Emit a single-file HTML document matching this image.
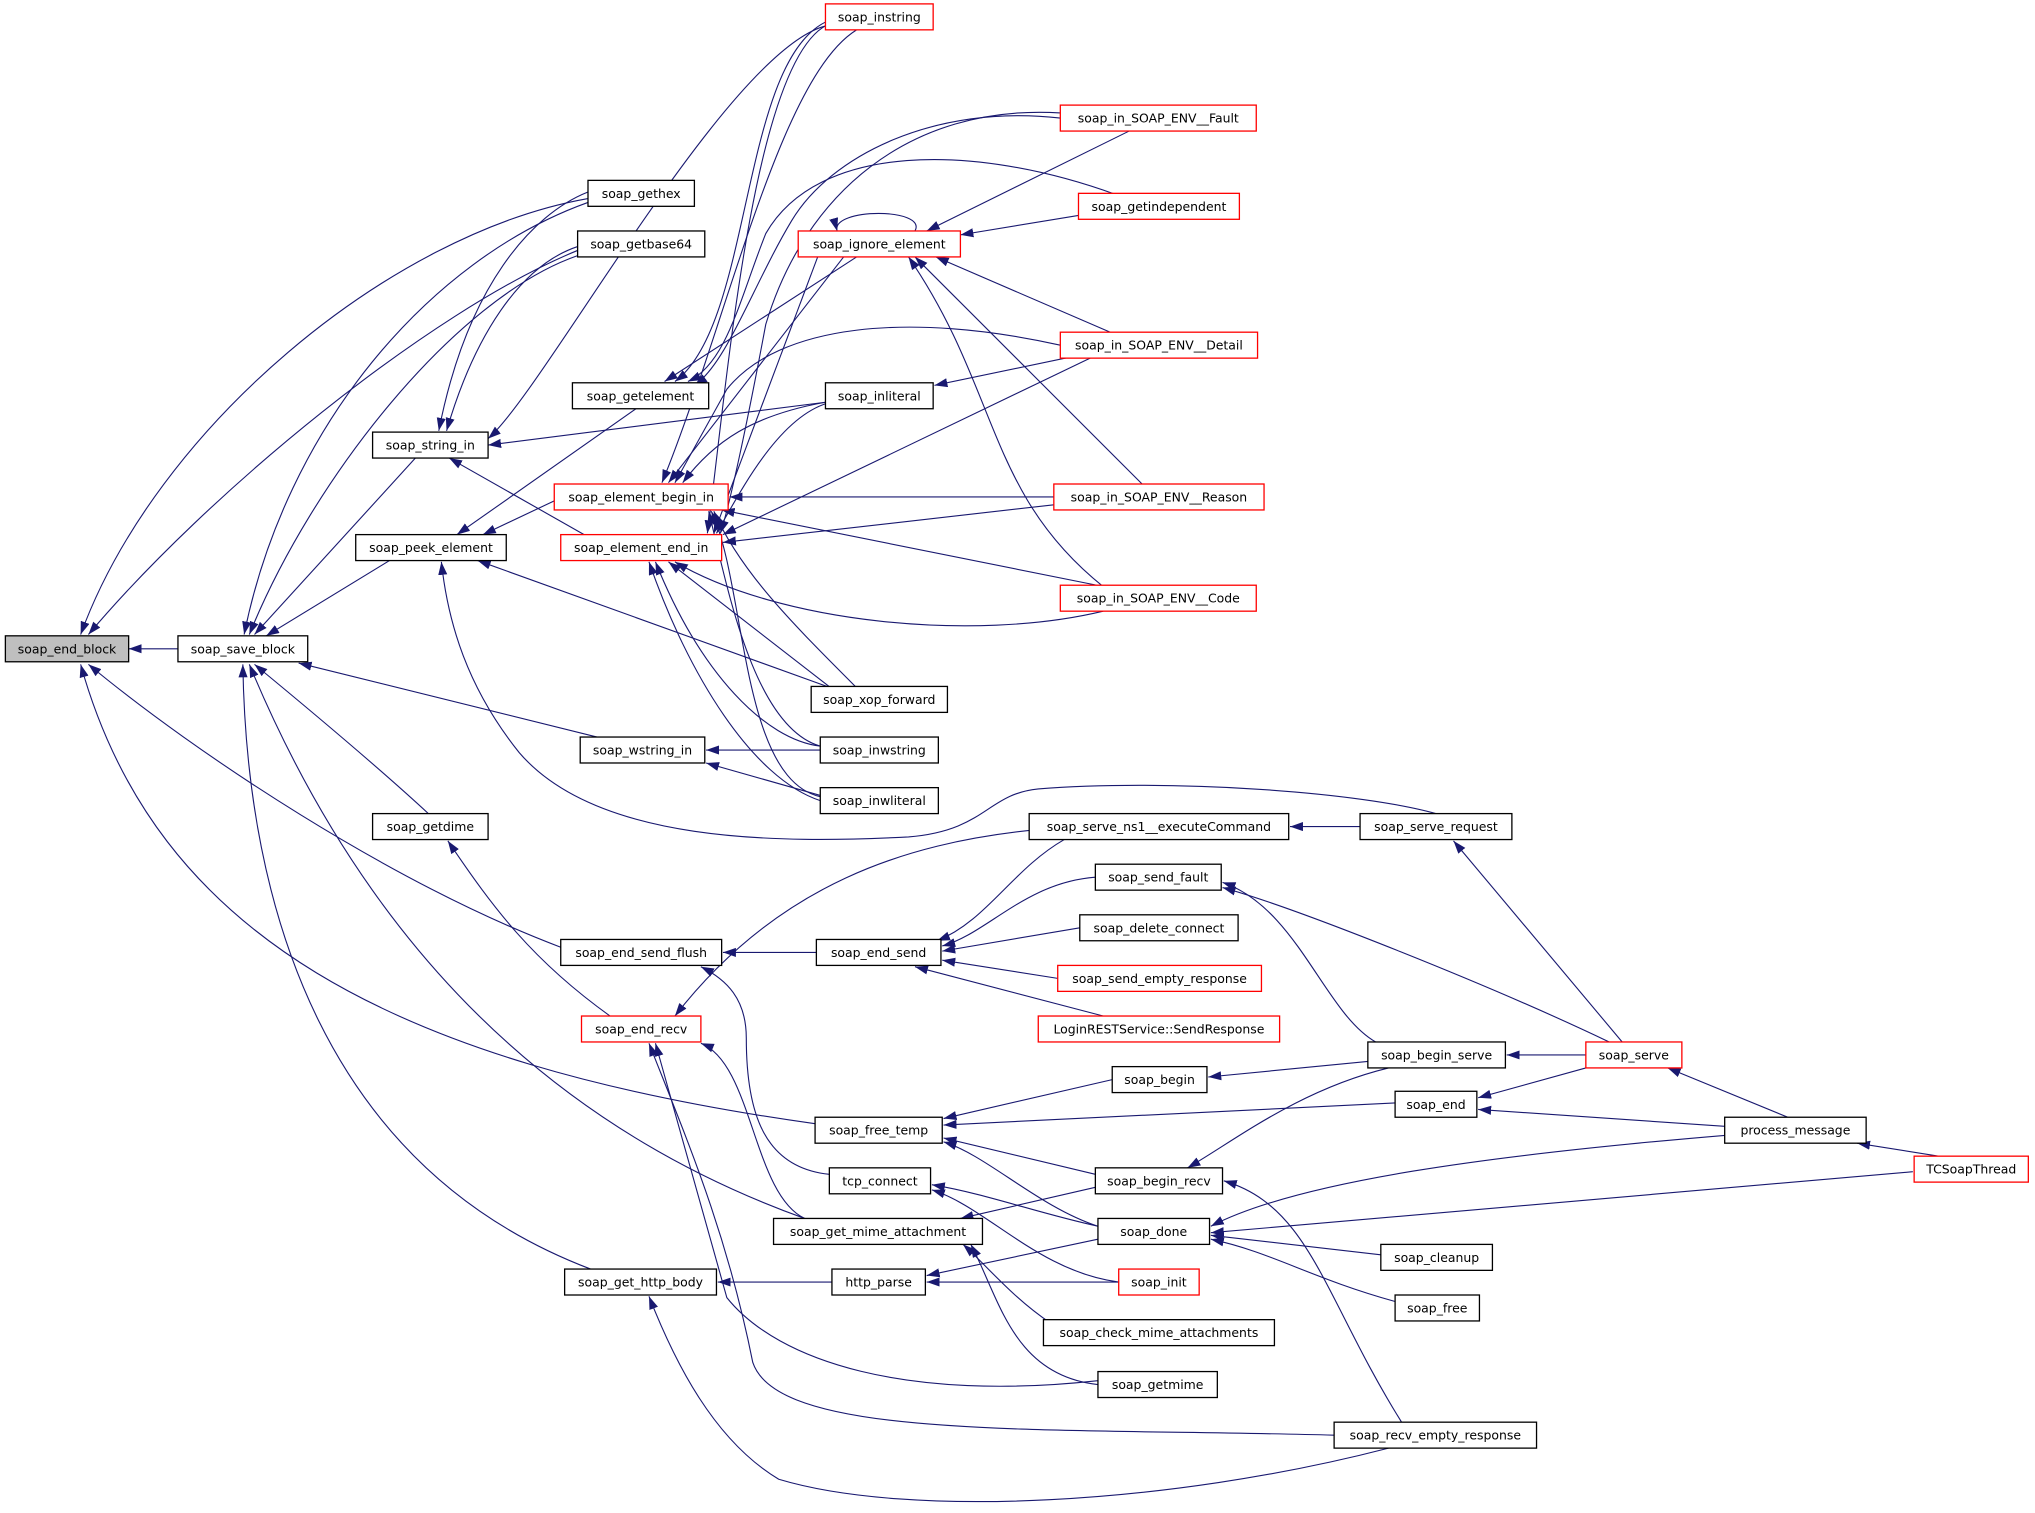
<!DOCTYPE html>
<html><head><meta charset="utf-8"><style>
html,body{margin:0;padding:0;background:#fff;}
svg{display:block;}
text{font-family:"DejaVu Sans","Liberation Sans",sans-serif;font-size:9.6px;fill:#000;text-anchor:middle;}
.e{fill:none;stroke:#191970;stroke-width:0.85;marker-end:url(#a);}
.n{fill:#fff;stroke:#000;stroke-width:1;}
.r{fill:#fff;stroke:#ff0000;stroke-width:1;}
</style></head><body>
<svg width="2035" height="1513" viewBox="0 0 1568 1166" xmlns="http://www.w3.org/2000/svg">
<defs><marker id="a" markerUnits="userSpaceOnUse" markerWidth="11" markerHeight="8" refX="10" refY="3.5" orient="auto"><path d="M0,0 L10,3.5 L0,7 z" fill="#191970"/></marker></defs>
<g>
<path class="e" d="M137,500 L99,500"/>
<path class="e" d="M453,153 C300,180 120,330 62,489"/>
<path class="e" d="M445,193 C330,240 160,380 68,489"/>
<path class="e" d="M432,730 C300,680 150,580 68,512"/>
<path class="e" d="M628,866 C300,820 120,720 62,512"/>
<path class="e" d="M453,156 C330,200 220,330 188,489"/>
<path class="e" d="M445,197 C350,230 240,370 192,489"/>
<path class="e" d="M320,353 L196,489"/>
<path class="e" d="M300,432 L205,490"/>
<path class="e" d="M460,568 L230,511"/>
<path class="e" d="M330,627 C290,590 230,540 196,512"/>
<path class="e" d="M620,939 C400,860 270,700 192,512"/>
<path class="e" d="M455,978 C250,900 190,700 187,512"/>
<path class="e" d="M453,148 C410,165 360,220 338,332"/>
<path class="e" d="M445,190 C400,205 365,260 344,332"/>
<path class="e" d="M636,20 C560,40 420,300 376,338"/>
<path class="e" d="M636,310 L376,343"/>
<path class="e" d="M450,412 L346,353"/>
<path class="e" d="M490,315 L352,412"/>
<path class="e" d="M427,386 L372,412"/>
<path class="e" d="M640,530 L368,432"/>
<path class="e" d="M1110,628 C1050,610 900,600 800,608 C760,612 760,640 700,645 C600,650 460,650 400,580 C360,530 345,480 340,433"/>
<path class="e" d="M660,23 C600,60 560,250 510,372"/>
<path class="e" d="M650,198 L515,372"/>
<path class="e" d="M817,266 C700,240 600,250 560,300 L520,372"/>
<path class="e" d="M636,310 C580,320 550,340 526,372"/>
<path class="e" d="M812,383 L562,383"/>
<path class="e" d="M850,452 L556,393"/>
<path class="e" d="M660,530 C610,480 570,440 550,394"/>
<path class="e" d="M632,575 C580,560 560,450 546,394"/>
<path class="e" d="M632,614 C570,600 575,450 548,394"/>
<path class="e" d="M640,18 C580,40 560,300 545,411"/>
<path class="e" d="M817,87 C700,80 620,150 590,250 C575,330 562,390 555,411"/>
<path class="e" d="M630,198 L550,411"/>
<path class="e" d="M840,276 L557,412"/>
<path class="e" d="M640,310 C600,320 570,380 552,411"/>
<path class="e" d="M812,389 L557,418"/>
<path class="e" d="M850,471 C750,495 600,480 520,433"/>
<path class="e" d="M640,530 L515,433"/>
<path class="e" d="M632,575 C590,570 540,520 505,433"/>
<path class="e" d="M632,617 C580,600 530,520 500,433"/>
<path class="e" d="M636,17 C570,50 580,250 520,294"/>
<path class="e" d="M860,150 C750,110 630,110 590,180 C570,230 560,280 530,294"/>
<path class="e" d="M660,198 L512,294"/>
<path class="e" d="M817,91 C720,80 640,120 610,170 C580,220 560,280 535,297"/>
<path class="e" d="M705,178 C715,160 640,160 645,178"/>
<path class="e" d="M870,101 L714,178"/>
<path class="e" d="M831,166 L740,181"/>
<path class="e" d="M860,258 L721,198"/>
<path class="e" d="M880,373 L705,198"/>
<path class="e" d="M850,452 C760,380 770,300 700,198"/>
<path class="e" d="M840,272 L720,297"/>
<path class="e" d="M632,578 L544,578"/>
<path class="e" d="M632,613 L544,588"/>
<path class="e" d="M470,783 C410,740 380,700 345,648"/>
<path class="e" d="M1048,637 L994,637"/>
<path class="e" d="M1250,803 L1120,648"/>
<path class="e" d="M1060,803 C1020,780 1000,700 942,680"/>
<path class="e" d="M1240,803 C1150,760 1000,700 942,684"/>
<path class="e" d="M820,647 C780,670 760,710 722,725"/>
<path class="e" d="M844,676 C790,680 760,720 726,729"/>
<path class="e" d="M832,715 L726,733"/>
<path class="e" d="M815,754 L726,740"/>
<path class="e" d="M850,783 L705,745"/>
<path class="e" d="M629,734 L557,734"/>
<path class="e" d="M639,905 C590,900 575,860 575,800 C575,770 560,755 540,745"/>
<path class="e" d="M793,640 C700,650 600,680 520,783"/>
<path class="e" d="M620,939 C580,920 580,820 540,804"/>
<path class="e" d="M846,1064 C700,1080 600,1050 560,1000 L505,804"/>
<path class="e" d="M1028,1106 C800,1100 600,1110 580,1050 C560,950 530,880 500,804"/>
<path class="e" d="M1222,813 L1161,813"/>
<path class="e" d="M1054,818 L931,830"/>
<path class="e" d="M1070,823 C1000,840 950,880 915,900"/>
<path class="e" d="M1380,862 L1285,823"/>
<path class="e" d="M1222,823 L1139,846"/>
<path class="e" d="M1329,868 L1139,855"/>
<path class="e" d="M1500,892 L1431,881"/>
<path class="e" d="M857,832 L727,862"/>
<path class="e" d="M1075,850 L727,867"/>
<path class="e" d="M844,905 L727,877"/>
<path class="e" d="M846,945 C800,930 760,890 727,880"/>
<path class="e" d="M1080,1096 C1020,1000 1010,930 943,910"/>
<path class="e" d="M844,915 L740,939"/>
<path class="e" d="M846,945 C800,935 760,920 718,913"/>
<path class="e" d="M862,988 C800,980 760,930 718,917"/>
<path class="e" d="M1329,875 C1150,890 1000,910 933,945"/>
<path class="e" d="M1474,903 L933,950"/>
<path class="e" d="M1064,967 L933,952"/>
<path class="e" d="M1075,1003 C1010,985 980,965 933,955"/>
<path class="e" d="M846,955 L714,983"/>
<path class="e" d="M862,988 L714,988"/>
<path class="e" d="M810,1020 C780,1000 760,975 742,959"/>
<path class="e" d="M846,1067 C780,1060 770,1000 748,959"/>
<path class="e" d="M641,988 L553,988"/>
<path class="e" d="M1070,1116 C900,1160 700,1170 600,1140 C550,1110 520,1050 500,999"/>
</g>
<g>
<rect x="4" y="490" width="95" height="20" fill="#bfbfbf" stroke="#000"/><text x="51.5" y="503.5">soap_end_block</text>
<rect class="n" x="137" y="490" width="100" height="20"/><text x="187" y="503.5">soap_save_block</text>
<rect class="n" x="453" y="139" width="82" height="20"/><text x="494" y="152.5">soap_gethex</text>
<rect class="n" x="445" y="178" width="98" height="20"/><text x="494" y="191.5">soap_getbase64</text>
<rect class="n" x="287" y="333" width="89" height="20"/><text x="331.5" y="346.5">soap_string_in</text>
<rect class="n" x="274" y="412" width="116" height="20"/><text x="332" y="425.5">soap_peek_element</text>
<rect class="n" x="441" y="295" width="105" height="20"/><text x="493.5" y="308.5">soap_getelement</text>
<rect class="r" x="427" y="373" width="134" height="20"/><text x="494" y="386.5">soap_element_begin_in</text>
<rect class="r" x="432" y="412" width="124" height="20"/><text x="494" y="425.5">soap_element_end_in</text>
<rect class="r" x="636" y="3" width="83" height="20"/><text x="677.5" y="16.5">soap_instring</text>
<rect class="r" x="817" y="81" width="151" height="20"/><text x="892.5" y="94.5">soap_in_SOAP_ENV__Fault</text>
<rect class="r" x="831" y="149" width="124" height="20"/><text x="893" y="162.5">soap_getindependent</text>
<rect class="r" x="615" y="178" width="125" height="20"/><text x="677.5" y="191.5">soap_ignore_element</text>
<rect class="r" x="817" y="256" width="152" height="20"/><text x="893" y="269.5">soap_in_SOAP_ENV__Detail</text>
<rect class="n" x="636" y="295" width="83" height="20"/><text x="677.5" y="308.5">soap_inliteral</text>
<rect class="r" x="812" y="373" width="162" height="20"/><text x="893" y="386.5">soap_in_SOAP_ENV__Reason</text>
<rect class="r" x="817" y="451" width="151" height="20"/><text x="892.5" y="464.5">soap_in_SOAP_ENV__Code</text>
<rect class="n" x="625" y="529" width="105" height="20"/><text x="677.5" y="542.5">soap_xop_forward</text>
<rect class="n" x="447" y="568" width="96" height="20"/><text x="495" y="581.5">soap_wstring_in</text>
<rect class="n" x="632" y="568" width="91" height="20"/><text x="677.5" y="581.5">soap_inwstring</text>
<rect class="n" x="632" y="607" width="91" height="20"/><text x="677.5" y="620.5">soap_inwliteral</text>
<rect class="n" x="287" y="627" width="89" height="20"/><text x="331.5" y="640.5">soap_getdime</text>
<rect class="n" x="793" y="627" width="200" height="20"/><text x="893" y="640.5">soap_serve_ns1__executeCommand</text>
<rect class="n" x="1048" y="627" width="117" height="20"/><text x="1106.5" y="640.5">soap_serve_request</text>
<rect class="n" x="844" y="666" width="97" height="20"/><text x="892.5" y="679.5">soap_send_fault</text>
<rect class="n" x="832" y="705" width="122" height="20"/><text x="893" y="718.5">soap_delete_connect</text>
<rect class="n" x="432" y="724" width="124" height="20"/><text x="494" y="737.5">soap_end_send_flush</text>
<rect class="n" x="629" y="724" width="96" height="20"/><text x="677" y="737.5">soap_end_send</text>
<rect class="r" x="815" y="744" width="157" height="20"/><text x="893.5" y="757.5">soap_send_empty_response</text>
<rect class="r" x="800" y="783" width="186" height="20"/><text x="893" y="796.5">LoginRESTService::SendResponse</text>
<rect class="r" x="448" y="783" width="92" height="20"/><text x="494" y="796.5">soap_end_recv</text>
<rect class="n" x="1054" y="803" width="106" height="20"/><text x="1107" y="816.5">soap_begin_serve</text>
<rect class="r" x="1222" y="803" width="74" height="20"/><text x="1259" y="816.5">soap_serve</text>
<rect class="n" x="857" y="822" width="73" height="20"/><text x="893.5" y="835.5">soap_begin</text>
<rect class="n" x="628" y="861" width="98" height="20"/><text x="677" y="874.5">soap_free_temp</text>
<rect class="n" x="1075" y="841" width="63" height="20"/><text x="1106.5" y="854.5">soap_end</text>
<rect class="n" x="1329" y="861" width="109" height="20"/><text x="1383.5" y="874.5">process_message</text>
<rect class="r" x="1475" y="891" width="88" height="20"/><text x="1519" y="904.5">TCSoapThread</text>
<rect class="n" x="639" y="900" width="78" height="20"/><text x="678" y="913.5">tcp_connect</text>
<rect class="n" x="844" y="900" width="98" height="20"/><text x="893" y="913.5">soap_begin_recv</text>
<rect class="n" x="596" y="939" width="161" height="20"/><text x="676.5" y="952.5">soap_get_mime_attachment</text>
<rect class="n" x="846" y="939" width="86" height="20"/><text x="889" y="952.5">soap_done</text>
<rect class="n" x="1064" y="959" width="86" height="20"/><text x="1107" y="972.5">soap_cleanup</text>
<rect class="n" x="435" y="978" width="117" height="20"/><text x="493.5" y="991.5">soap_get_http_body</text>
<rect class="n" x="641" y="978" width="72" height="20"/><text x="677" y="991.5">http_parse</text>
<rect class="r" x="862" y="978" width="62" height="20"/><text x="893" y="991.5">soap_init</text>
<rect class="n" x="1075" y="998" width="65" height="20"/><text x="1107.5" y="1011.5">soap_free</text>
<rect class="n" x="804" y="1017" width="178" height="20"/><text x="893" y="1030.5">soap_check_mime_attachments</text>
<rect class="n" x="846" y="1057" width="92" height="20"/><text x="892" y="1070.5">soap_getmime</text>
<rect class="n" x="1028" y="1096" width="156" height="20"/><text x="1106" y="1109.5">soap_recv_empty_response</text>
</g>
</svg>
</body></html>
